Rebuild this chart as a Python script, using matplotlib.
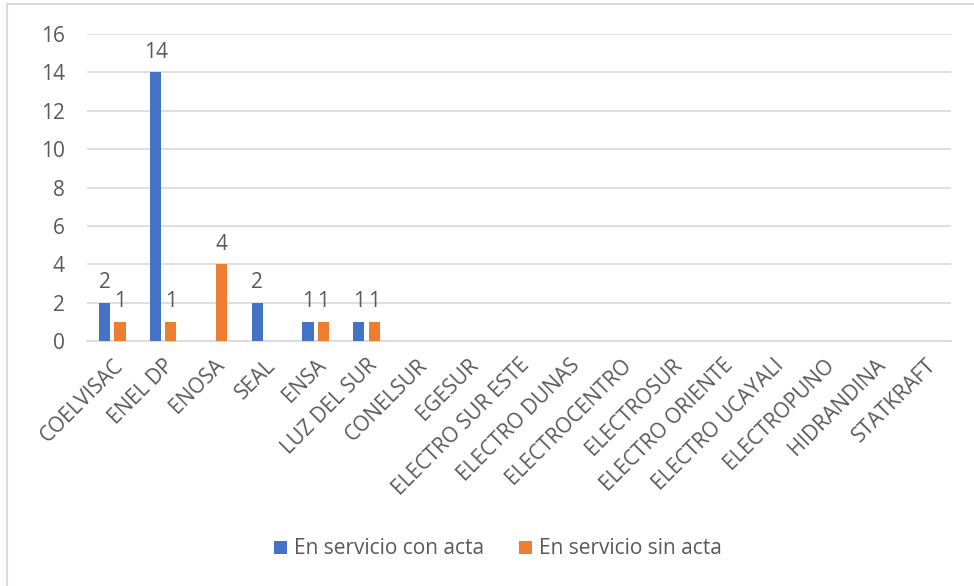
import numpy as np
import matplotlib.pyplot as plt
from matplotlib.lines import Line2D

empresas = ['COELVISAC', 'ENEL DP', 'ENOSA', 'SEAL', 'ENSA', 'LUZ DEL SUR',
            'CONELSUR', 'EGESUR', 'ELECTRO SUR ESTE', 'ELECTRO DUNAS',
            'ELECTROCENTRO', 'ELECTROSUR', 'ELECTRO ORIENTE', 'ELECTRO UCAYALI',
            'ELECTROPUNO', 'HIDRANDINA', 'STATKRAFT']
con_acta = [2, 14, 0, 2, 1, 1, 0, 0, 0, 0, 0, 0, 0, 0, 0, 0, 0]
sin_acta = [1, 1, 4, 0, 1, 1, 0, 0, 0, 0, 0, 0, 0, 0, 0, 0, 0]
series = ['En servicio con acta', 'En servicio sin acta']
colores = ['#4472C4', '#ED7D31']
gris = '#595959'
fs = 15

plt.rcParams['font.family'] = ['Open Sans', 'DejaVu Sans']

fig = plt.figure(figsize=(9.74, 5.86), dpi=100)
ax = fig.add_axes([87/974, 1-341/586, (951-87)/974, (341-34)/586])

x = np.arange(len(empresas))
w = 0.22
off = 0.15
for vals, dx, c, lab in [(con_acta, -off, colores[0], series[0]),
                         (sin_acta, off, colores[1], series[1])]:
    bars = ax.bar(x + dx, vals, w, color=c, label=lab, zorder=3)
    for b, v in zip(bars, vals):
        if v > 0:
            ax.annotate(str(v), (b.get_x() + b.get_width()/2, v), xytext=(0, 7),
                        textcoords='offset points', ha='center', va='bottom',
                        fontsize=fs, color=gris)

ax.set_xlim(-0.5, len(empresas) - 0.5)
ax.set_ylim(0, 16)
ax.set_yticks(range(0, 17, 2))
ax.yaxis.grid(True, color='#D9D9D9', linewidth=1.2, zorder=0)
ax.set_axisbelow(True)
for s in ['top', 'right', 'left']:
    ax.spines[s].set_visible(False)
ax.spines['bottom'].set_color('#D9D9D9')
ax.spines['bottom'].set_linewidth(1.2)
ax.tick_params(axis='y', length=0, labelsize=fs, colors=gris, pad=16)
ax.tick_params(axis='x', length=0, labelsize=fs, colors=gris, pad=10)
ax.set_xticks(x)
ax.set_xticklabels(empresas, rotation=45, ha='right', va='top',
                   rotation_mode='anchor')

fig.legend(loc='center', bbox_to_anchor=(498/974, 1-549/586), ncol=2, frameon=False,
           fontsize=fs, labelcolor=gris, handlelength=0.6, handleheight=0.6,
           columnspacing=1.7, handletextpad=0.35)

# borde del grafico (solo arriba e izquierda visibles)
fig.add_artist(Line2D([7/974, 1], [1-4/586, 1-4/586], transform=fig.transFigure,
                      color='#D9D9D9', linewidth=1.5))
fig.add_artist(Line2D([7/974, 7/974], [0, 1-4/586], transform=fig.transFigure,
                      color='#D9D9D9', linewidth=1.5))

fig.savefig('out.png', dpi=100, facecolor='white')
